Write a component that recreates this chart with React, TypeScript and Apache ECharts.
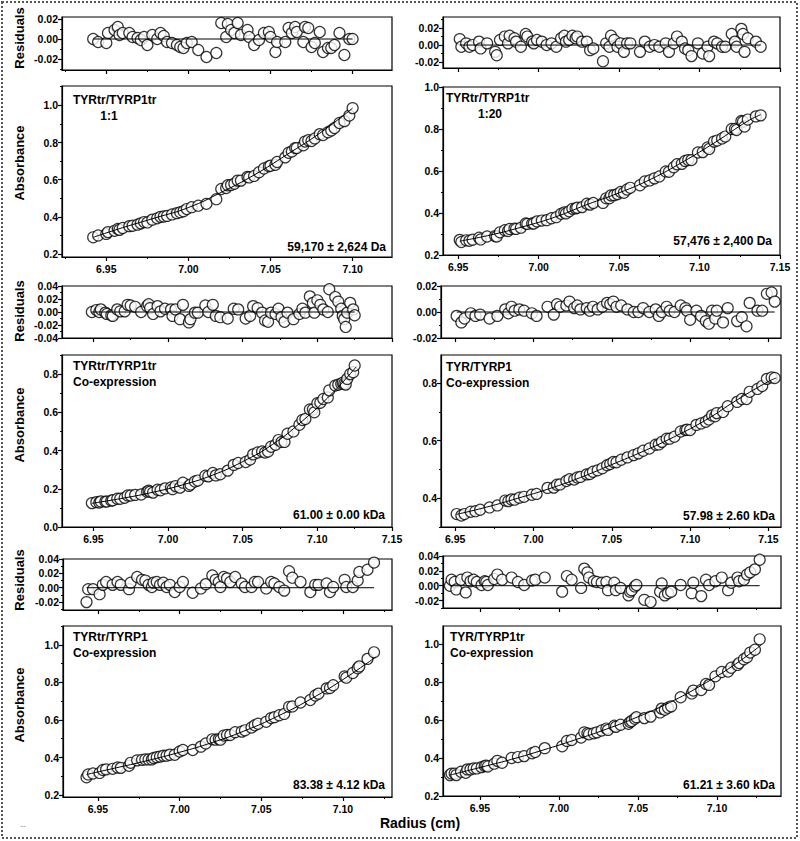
import React, { useEffect, useRef } from "react";
import * as echarts from "echarts";

// ---------- DATA: each scan row = [radius (cm), absorbance, residual] ----------
const p1Scan = [
  [6.942,0.290,0.000],[6.945,0.300,-0.003],[6.950,0.308,-0.004],[6.951,0.318,0.006],[6.955,0.325,0.009],
  [6.957,0.335,0.012],[6.958,0.330,0.004],[6.960,0.340,0.006],[6.964,0.350,0.006],[6.966,0.352,0.002],
  [6.969,0.358,0.001],[6.971,0.365,-0.001],[6.973,0.372,0.002],[6.975,0.370,-0.006],[6.978,0.385,0.004],
  [6.981,0.392,0.000],[6.983,0.400,0.006],[6.985,0.402,0.003],[6.987,0.405,-0.003],[6.990,0.413,-0.004],
  [6.993,0.420,-0.006],[6.995,0.425,-0.008],[6.997,0.430,-0.009],[6.999,0.442,-0.004],[7.002,0.452,-0.003],
  [7.006,0.460,-0.011],[7.011,0.470,-0.018],[7.017,0.495,-0.014],[7.020,0.550,0.016],[7.023,0.555,0.002],
  [7.024,0.570,0.015],[7.026,0.572,0.009],[7.028,0.578,0.006],[7.030,0.595,0.016],[7.032,0.595,0.004],
  [7.036,0.615,0.009],[7.037,0.612,0.002],[7.040,0.620,-0.006],[7.043,0.640,-0.001],[7.046,0.660,0.006],
  [7.049,0.672,0.007],[7.050,0.675,0.002],[7.053,0.680,-0.013],[7.054,0.695,-0.003],[7.059,0.720,-0.003],
  [7.061,0.745,0.011],[7.063,0.752,0.006],[7.065,0.770,0.012],[7.066,0.770,0.007],[7.070,0.785,-0.003],
  [7.071,0.805,0.012],[7.073,0.812,0.011],[7.075,0.808,-0.008],[7.077,0.822,-0.004],[7.080,0.845,0.007],
  [7.082,0.840,-0.013],[7.085,0.855,-0.009],[7.087,0.865,-0.009],[7.089,0.878,-0.006],[7.092,0.905,0.006],
  [7.095,0.915,-0.016],[7.098,0.945,0.000],[7.100,0.985,0.000],
];
const p1Fit = [[6.942,0.29],[6.96,0.342],[6.98,0.395],[7.0,0.45],[7.02,0.532],[7.04,0.625],[7.06,0.735],[7.08,0.85],[7.10,0.985]];

const p2Scan = [
  [6.951,0.272,0.007],[6.952,0.262,-0.002],[6.955,0.270,0.002],[6.957,0.268,-0.002],[6.959,0.273,0.000],
  [6.963,0.282,0.004],[6.964,0.274,-0.004],[6.968,0.288,0.002],[6.973,0.290,-0.008],[6.974,0.288,-0.012],
  [6.976,0.308,0.006],[6.979,0.318,0.010],[6.981,0.314,0.002],[6.982,0.324,0.011],[6.985,0.326,0.008],
  [6.986,0.324,0.004],[6.989,0.330,-0.002],[6.992,0.350,0.013],[6.993,0.348,0.010],[6.996,0.350,0.004],
  [6.997,0.350,0.002],[6.999,0.360,0.006],[7.002,0.364,0.004],[7.005,0.366,0.000],[7.008,0.375,0.002],
  [7.011,0.380,-0.002],[7.014,0.396,0.008],[7.016,0.403,0.011],[7.017,0.398,0.004],[7.019,0.408,0.006],
  [7.021,0.420,0.011],[7.023,0.422,0.008],[7.024,0.425,0.010],[7.027,0.428,0.004],[7.030,0.444,0.004],
  [7.032,0.440,-0.006],[7.034,0.448,-0.004],[7.040,0.448,-0.019],[7.042,0.470,0.002],[7.044,0.470,-0.002],
  [7.045,0.484,0.011],[7.047,0.485,0.006],[7.049,0.490,-0.002],[7.051,0.500,0.002],[7.053,0.496,-0.008],
  [7.055,0.512,0.002],[7.057,0.520,0.002],[7.063,0.532,-0.008],[7.066,0.550,0.004],[7.069,0.555,-0.002],
  [7.072,0.565,0.000],[7.075,0.574,-0.002],[7.079,0.598,0.002],[7.081,0.596,-0.008],[7.084,0.618,0.002],
  [7.086,0.632,0.010],[7.089,0.634,0.004],[7.091,0.648,-0.004],[7.093,0.652,-0.006],[7.095,0.652,-0.013],
  [7.099,0.688,0.002],[7.102,0.690,-0.010],[7.105,0.712,-0.002],[7.106,0.705,-0.013],[7.109,0.740,0.004],
  [7.111,0.745,0.002],[7.114,0.755,-0.002],[7.116,0.764,-0.002],[7.120,0.800,0.013],[7.122,0.800,0.004],
  [7.123,0.795,-0.002],[7.126,0.838,0.019],[7.127,0.835,0.013],[7.128,0.812,-0.008],[7.130,0.845,0.008],
  [7.135,0.860,0.004],[7.138,0.865,-0.002],
];
const p2Fit = [[6.951,0.266],[6.97,0.295],[6.99,0.334],[7.01,0.38],[7.03,0.44],[7.05,0.496],[7.07,0.562],[7.09,0.645],[7.11,0.738],[7.13,0.838],[7.138,0.868]];

const p3Scan = [
  [6.949,0.125,0.000],[6.952,0.130,0.003],[6.954,0.128,0.000],[6.955,0.134,0.004],[6.958,0.133,-0.001],
  [6.959,0.133,-0.003],[6.962,0.138,-0.005],[6.963,0.140,-0.006],[6.966,0.148,0.004],[6.968,0.148,0.001],
  [6.971,0.153,0.001],[6.973,0.165,0.011],[6.975,0.165,0.010],[6.978,0.168,0.008],[6.982,0.170,0.000],
  [6.986,0.185,0.009],[6.987,0.190,0.012],[6.988,0.185,0.006],[6.990,0.180,-0.003],[6.993,0.195,0.009],
  [6.995,0.192,0.001],[6.998,0.202,0.005],[7.002,0.207,0.004],[7.003,0.198,-0.006],[7.005,0.214,0.004],
  [7.008,0.206,-0.011],[7.010,0.232,0.011],[7.014,0.215,-0.016],[7.015,0.222,-0.011],[7.018,0.238,-0.001],
  [7.020,0.243,-0.001],[7.025,0.268,0.010],[7.027,0.265,0.000],[7.030,0.283,0.011],[7.032,0.270,-0.006],
  [7.035,0.276,-0.008],[7.040,0.295,-0.010],[7.044,0.325,0.005],[7.047,0.335,0.004],[7.052,0.340,-0.010],
  [7.055,0.353,-0.006],[7.057,0.380,0.009],[7.060,0.390,0.006],[7.063,0.395,-0.001],[7.065,0.390,-0.013],
  [7.067,0.395,-0.015],[7.069,0.420,-0.001],[7.072,0.430,-0.003],[7.074,0.455,0.005],[7.076,0.445,-0.008],
  [7.078,0.445,-0.015],[7.080,0.488,-0.001],[7.084,0.500,-0.011],[7.088,0.535,-0.003],[7.090,0.560,0.005],
  [7.092,0.565,-0.001],[7.095,0.615,0.024],[7.097,0.615,0.014],[7.098,0.600,-0.001],[7.100,0.648,0.018],
  [7.102,0.650,0.011],[7.104,0.670,0.004],[7.107,0.678,0.000],[7.108,0.715,0.035],[7.112,0.740,0.023],
  [7.114,0.745,0.016],[7.116,0.750,0.005],[7.117,0.755,-0.006],[7.118,0.750,-0.011],[7.119,0.745,-0.023],
  [7.120,0.775,-0.001],[7.122,0.800,0.014],[7.124,0.810,0.004],[7.125,0.845,-0.005],
];
const p3Fit = [[6.949,0.124],[6.97,0.151],[6.99,0.182],[7.01,0.221],[7.03,0.272],[7.05,0.342],[7.07,0.432],[7.09,0.555],[7.11,0.70],[7.126,0.838]];

const p4Scan = [
  [6.951,0.345,-0.003],[6.954,0.340,-0.008],[6.956,0.345,-0.005],[6.960,0.353,-0.001],[6.963,0.355,-0.003],
  [6.966,0.360,-0.002],[6.972,0.368,-0.005],[6.977,0.375,-0.003],[6.982,0.392,0.002],[6.984,0.390,-0.001],
  [6.986,0.396,0.004],[6.988,0.395,0.001],[6.991,0.402,0.002],[6.994,0.405,0.001],[6.999,0.412,-0.001],
  [7.002,0.415,-0.003],[7.009,0.436,0.004],[7.013,0.437,-0.002],[7.015,0.447,0.006],[7.017,0.448,0.004],
  [7.021,0.460,0.005],[7.023,0.466,0.008],[7.026,0.465,0.003],[7.028,0.472,0.005],[7.030,0.474,0.002],
  [7.034,0.483,0.003],[7.036,0.484,0.001],[7.038,0.492,0.004],[7.041,0.497,0.002],[7.044,0.504,0.004],
  [7.047,0.515,0.007],[7.049,0.519,0.006],[7.051,0.526,0.008],[7.053,0.525,0.004],[7.056,0.534,0.005],
  [7.060,0.542,0.002],[7.064,0.550,0.000],[7.067,0.556,0.000],[7.070,0.565,0.003],[7.074,0.573,0.000],
  [7.078,0.586,0.002],[7.080,0.587,-0.003],[7.082,0.596,0.000],[7.085,0.607,0.004],[7.087,0.607,0.001],
  [7.090,0.614,0.000],[7.094,0.632,0.005],[7.097,0.637,0.003],[7.098,0.638,0.001],[7.100,0.637,-0.006],
  [7.104,0.655,0.001],[7.107,0.660,-0.003],[7.110,0.666,-0.007],[7.112,0.674,-0.009],[7.114,0.688,0.001],
  [7.116,0.685,-0.005],[7.117,0.696,0.001],[7.121,0.700,-0.008],[7.124,0.720,0.003],[7.130,0.735,-0.007],
  [7.133,0.745,-0.004],[7.136,0.745,-0.011],[7.138,0.770,0.007],[7.143,0.780,0.001],[7.146,0.790,0.001],
  [7.149,0.815,0.014],[7.152,0.820,0.015],[7.154,0.818,0.008],
];
const p4Fit = [[6.951,0.344],[6.97,0.369],[6.99,0.40],[7.01,0.433],[7.03,0.472],[7.05,0.517],[7.07,0.563],[7.09,0.614],[7.11,0.672],[7.13,0.742],[7.15,0.806],[7.155,0.818]];

const p5Scan = [
  [6.943,0.295,-0.020],[6.944,0.310,-0.002],[6.947,0.315,-0.002],[6.951,0.318,-0.009],[6.953,0.334,0.004],
  [6.955,0.337,0.008],[6.959,0.340,0.004],[6.962,0.347,0.008],[6.964,0.345,0.004],[6.969,0.356,-0.002],
  [6.970,0.372,0.007],[6.974,0.385,0.015],[6.977,0.388,0.011],[6.979,0.390,0.010],[6.981,0.390,0.004],
  [6.983,0.390,0.001],[6.984,0.398,0.007],[6.986,0.402,0.008],[6.988,0.405,0.004],[6.990,0.410,0.007],
  [6.992,0.410,0.001],[6.994,0.415,0.004],[6.997,0.415,-0.006],[7.000,0.432,0.001],[7.002,0.440,0.008],
  [7.008,0.440,-0.007],[7.013,0.458,-0.001],[7.016,0.475,0.005],[7.020,0.497,0.017],[7.022,0.495,0.011],
  [7.024,0.498,0.008],[7.025,0.495,0.001],[7.027,0.517,0.015],[7.029,0.520,0.013],[7.031,0.520,0.008],
  [7.034,0.535,0.015],[7.038,0.538,0.006],[7.040,0.545,0.001],[7.044,0.560,0.001],[7.046,0.572,0.008],
  [7.048,0.580,0.008],[7.053,0.590,-0.001],[7.056,0.610,0.008],[7.058,0.615,0.006],[7.061,0.625,0.001],
  [7.064,0.632,-0.004],[7.067,0.670,0.023],[7.069,0.672,0.014],[7.074,0.693,0.008],[7.080,0.706,-0.006],
  [7.083,0.730,0.004],[7.085,0.740,0.004],[7.090,0.768,0.006],[7.092,0.770,-0.006],[7.094,0.785,0.001],
  [7.101,0.832,0.011],[7.102,0.825,0.001],[7.106,0.850,0.001],[7.109,0.875,0.010],[7.110,0.885,0.022],
  [7.115,0.925,0.025],[7.119,0.960,0.035],
];
const p5Fit = [[6.943,0.31],[6.96,0.343],[6.98,0.383],[7.00,0.428],[7.02,0.48],[7.04,0.543],[7.06,0.62],[7.08,0.71],[7.10,0.815],[7.12,0.935]];

const p6Scan = [
  [6.931,0.310,0.000],[6.932,0.318,0.008],[6.934,0.318,0.005],[6.935,0.310,-0.005],[6.938,0.328,0.008],
  [6.941,0.322,-0.009],[6.942,0.340,0.011],[6.944,0.340,0.006],[6.946,0.345,0.008],[6.948,0.345,0.005],
  [6.951,0.352,0.001],[6.953,0.358,0.006],[6.954,0.360,0.005],[6.955,0.355,0.001],[6.959,0.370,0.009],
  [6.961,0.385,0.015],[6.964,0.375,0.008],[6.970,0.400,0.011],[6.974,0.405,0.005],[6.978,0.410,0.001],
  [6.983,0.425,0.007],[6.985,0.432,0.008],[6.991,0.452,0.011],[7.002,0.462,-0.008],[7.005,0.490,0.013],
  [7.008,0.495,0.008],[7.014,0.508,-0.003],[7.016,0.535,0.023],[7.018,0.530,0.018],[7.019,0.525,0.011],
  [7.022,0.530,0.006],[7.024,0.535,0.005],[7.027,0.545,0.004],[7.030,0.555,0.005],[7.031,0.548,-0.006],
  [7.035,0.570,0.004],[7.036,0.564,-0.006],[7.039,0.575,-0.003],[7.044,0.580,-0.013],[7.045,0.590,-0.008],
  [7.046,0.595,-0.006],[7.048,0.607,-0.001],[7.049,0.615,0.001],[7.054,0.610,-0.019],[7.058,0.618,-0.022],
  [7.064,0.640,-0.008],[7.065,0.660,0.003],[7.067,0.654,-0.013],[7.069,0.665,-0.010],[7.071,0.672,-0.008],
  [7.077,0.720,0.001],[7.084,0.740,-0.010],[7.085,0.755,0.004],[7.090,0.758,-0.014],[7.093,0.790,0.008],
  [7.095,0.785,0.001],[7.099,0.830,0.006],[7.103,0.853,0.011],[7.107,0.855,-0.006],[7.109,0.875,0.004],
  [7.113,0.890,0.011],[7.114,0.900,0.006],[7.117,0.920,0.008],[7.119,0.930,0.015],[7.121,0.955,0.018],
  [7.124,0.970,0.022],[7.127,1.025,0.035],
];
const p6Fit = [[6.931,0.31],[6.95,0.35],[6.97,0.393],[6.99,0.442],[7.01,0.495],[7.03,0.552],[7.05,0.617],[7.07,0.692],[7.09,0.782],[7.11,0.885],[7.128,0.995]];

// ---------- tick labels ----------
const xTicks4 = [6.95, 7.0, 7.05, 7.1];
const xTicks5 = [6.95, 7.0, 7.05, 7.1, 7.15];
const resTicks2 = [-0.02, 0, 0.02];
const resTicks3 = [-0.02, 0, 0.02, 0.04];
const resTicks5 = [-0.04, -0.02, 0, 0.02, 0.04];
const absTicksA = [0.2, 0.4, 0.6, 0.8, 1.0];
const absTicksB = [0, 0.2, 0.4, 0.6, 0.8];
const absTicksC = [0.4, 0.6, 0.8];

// ---------- texts ----------
const p1Title = ["TYRtr/TYRP1tr", "1:1"];
const p2Title = ["TYRtr/TYRP1tr", "1:20"];
const p3Title = ["TYRtr/TYRP1tr", "Co-expression"];
const p4Title = ["TYR/TYRP1", "Co-expression"];
const p5Title = ["TYRtr/TYRP1", "Co-expression"];
const p6Title = ["TYR/TYRP1tr", "Co-expression"];
const mwLabels = ["59,170 ± 2,624 Da", "57,476 ± 2,400 Da", "61.00 ± 0.00 kDa", "57.98 ± 2.60 kDa", "83.38 ± 4.12 kDa", "61.21 ± 3.60 kDa"];

const FONT = "'Liberation Sans', Arial, Helvetica, sans-serif";

const panels = [
  { scan: p1Scan, fit: p1Fit, res: [62, 17, 330, 53], abs: [62, 86, 330, 171], x: [6.923, 7.124], ry: [-0.031, 0.022], ay: [0.184, 1.104], xt: xTicks4, rt: resTicks2, at: absTicksA },
  { scan: p2Scan, fit: p2Fit, res: [443, 17, 337, 51], abs: [443, 87, 337, 168], x: [6.9406, 7.15], ry: [-0.027, 0.033], ay: [0.2, 1.0], xt: xTicks5, rt: resTicks2, at: absTicksA },
  { scan: p3Scan, fit: p3Fit, res: [62, 286, 330, 52], abs: [62, 355, 330, 172], x: [6.929, 7.15], ry: [-0.04, 0.04], ay: [0, 0.9], xt: xTicks5, rt: resTicks5, at: absTicksB },
  { scan: p4Scan, fit: p4Fit, res: [441, 286, 340, 52], abs: [441, 355, 340, 172], x: [6.941, 7.158], ry: [-0.02, 0.02], ay: [0.3, 0.898], xt: xTicks5, rt: resTicks2, at: absTicksC },
  { scan: p5Scan, fit: p5Fit, res: [63, 559, 329, 51], abs: [63, 626, 329, 171], x: [6.9286, 7.13], ry: [-0.031, 0.04], ay: [0.19, 1.1], xt: xTicks4, rt: resTicks3, at: absTicksA },
  { scan: p6Scan, fit: p6Fit, res: [443, 556, 338, 52], abs: [443, 626, 338, 170], x: [6.9266, 7.1405], ry: [-0.03, 0.04], ay: [0.2, 1.095], xt: xTicks4, rt: resTicks3, at: absTicksA },
];

function minorOf(majors: number[], min: number, max: number) {
  const step = majors[1] - majors[0];
  const out: number[] = [];
  for (let v = majors[0] - step / 2; v <= max + 1e-9; v += step) {
    if (v >= min - 1e-9) out.push(+v.toFixed(5));
  }
  return out;
}

function buildOption() {
  const grid: any[] = [];
  const xAxis: any[] = [];
  const yAxis: any[] = [];
  const series: any[] = [];
  const labelStyle = { color: "#000", fontSize: 10.5, fontWeight: "bold", fontFamily: FONT };

  const addGrid = (box: number[], xr: number[], yr: number[], xt: number[], yt: number[], yDec: number, showX: boolean) => {
    const gi = grid.length;
    grid.push({ left: box[0], top: box[1], width: box[2], height: box[3], show: true, borderColor: "#000", borderWidth: 1.2, backgroundColor: "rgba(0,0,0,0)", containLabel: false, outerBoundsMode: "none" });
    const xi = xAxis.length;
    xAxis.push({
      type: "value", gridIndex: gi, min: xr[0], max: xr[1], position: "bottom",
      axisLine: { show: true, onZero: false, lineStyle: { color: "#000", width: 1.2 } },
      axisTick: { show: true, inside: false, length: 4, customValues: xt, lineStyle: { color: "#000", width: 1.2 } },
      axisLabel: { show: showX, customValues: xt, formatter: (v: number) => Number(v).toFixed(2), margin: 6, ...labelStyle },
      splitLine: { show: false },
    });
    xAxis.push({
      type: "value", gridIndex: gi, min: xr[0], max: xr[1], position: "bottom",
      axisLine: { show: false, onZero: false },
      axisTick: { show: true, inside: false, length: 2, customValues: minorOf(xt, xr[0], xr[1]), lineStyle: { color: "#000", width: 1 } },
      axisLabel: { show: false }, splitLine: { show: false },
    });
    const yi = yAxis.length;
    yAxis.push({
      type: "value", gridIndex: gi, min: yr[0], max: yr[1], position: "left",
      axisLine: { show: true, onZero: false, lineStyle: { color: "#000", width: 1.2 } },
      axisTick: { show: true, inside: false, length: 4, customValues: yt, lineStyle: { color: "#000", width: 1.2 } },
      axisLabel: { show: true, customValues: yt, formatter: (v: number) => Number(v).toFixed(yDec), margin: 4, ...labelStyle },
      splitLine: { show: false },
    });
    yAxis.push({
      type: "value", gridIndex: gi, min: yr[0], max: yr[1], position: "left",
      axisLine: { show: false, onZero: false },
      axisTick: { show: true, inside: false, length: 2, customValues: minorOf(yt, yr[0], yr[1]), lineStyle: { color: "#000", width: 1 } },
      axisLabel: { show: false }, splitLine: { show: false },
    });
    return { xi, yi };
  };

  const scatterStyle = { color: "#fff", borderColor: "#000", borderWidth: 1.2 };

  panels.forEach((p) => {
    const r = addGrid(p.res, p.x, p.ry, p.xt, p.rt, 2, false);
    series.push({ type: "scatter", xAxisIndex: r.xi, yAxisIndex: r.yi, data: p.scan.map((d) => [d[0], d[2]]), symbolSize: 11, itemStyle: scatterStyle, silent: true, z: 2 });
    series.push({ type: "line", xAxisIndex: r.xi, yAxisIndex: r.yi, data: [[p.scan[0][0], 0], [p.scan[p.scan.length - 1][0], 0]], symbol: "none", lineStyle: { color: "#000", width: 1 }, silent: true, z: 3 });
    const a = addGrid(p.abs, p.x, p.ay, p.xt, p.at, 1, true);
    series.push({ type: "scatter", xAxisIndex: a.xi, yAxisIndex: a.yi, data: p.scan.map((d) => [d[0], d[1]]), symbolSize: 11, itemStyle: scatterStyle, silent: true, z: 2 });
    series.push({ type: "line", xAxisIndex: a.xi, yAxisIndex: a.yi, data: p.fit, smooth: true, symbol: "none", lineStyle: { color: "#000", width: 1 }, silent: true, z: 3 });
  });

  const txt = (text: string, x: number, y: number, align: string, size = 12, rotation = 0) => ({
    type: "text", x, y, rotation, z: 10,
    style: { text, fill: "#000", fontSize: size, fontWeight: "bold", fontFamily: FONT, align, verticalAlign: "middle" },
  });

  const graphic: any[] = [
    { type: "rect", shape: { x: 2, y: 2, width: 795, height: 836 }, style: { fill: "none", stroke: "#555", lineWidth: 2, lineDash: [2, 2] }, z: 0 },
    txt(p1Title[0], 73, 100, "left"), txt(p1Title[1], 109, 116, "center"), txt(mwLabels[0], 386, 247, "right"),
    txt(p2Title[0], 446, 98, "left"), txt(p2Title[1], 490, 114, "center"), txt(mwLabels[1], 772, 241, "right"),
    txt(p3Title[0], 73, 366, "left"), txt(p3Title[1], 73, 382, "left"), txt(mwLabels[2], 385, 515, "right"),
    txt(p4Title[0], 446, 367, "left"), txt(p4Title[1], 446, 383, "left"), txt(mwLabels[3], 775, 516, "right"),
    txt(p5Title[0], 73, 637, "left"), txt(p5Title[1], 73, 653, "left"), txt(mwLabels[4], 385, 785, "right"),
    txt(p6Title[0], 450, 637, "left"), txt(p6Title[1], 450, 653, "left"), txt(mwLabels[5], 775, 785, "right"),
    txt("Residuals", 19, 38, "center", 13, Math.PI / 2),
    txt("Absorbance", 19, 163, "center", 13, Math.PI / 2),
    txt("Residuals", 19, 311, "center", 13, Math.PI / 2),
    txt("Absorbance", 19, 425, "center", 13, Math.PI / 2),
    txt("Residuals", 19, 580, "center", 13, Math.PI / 2),
    txt("Absorbance", 19, 705, "center", 13, Math.PI / 2),
    txt("Radius (cm)", 420, 823, "center", 14),
    { type: "text", x: 23, y: 825, style: { text: "--", fill: "#777", fontSize: 8, fontFamily: FONT, align: "center", verticalAlign: "middle" } },
  ];

  return { animation: false, backgroundColor: "#fff", grid, xAxis, yAxis, series, graphic };
}

export default function App() {
  const ref = useRef<HTMLDivElement>(null);
  useEffect(() => {
    if (!ref.current) return;
    const chart = echarts.init(ref.current, undefined, { renderer: "svg" });
    chart.setOption(buildOption() as any);
    return () => chart.dispose();
  }, []);
  return <div ref={ref} style={{ position: "absolute", left: 0, top: 0, width: 800, height: 841 }} />;
}
